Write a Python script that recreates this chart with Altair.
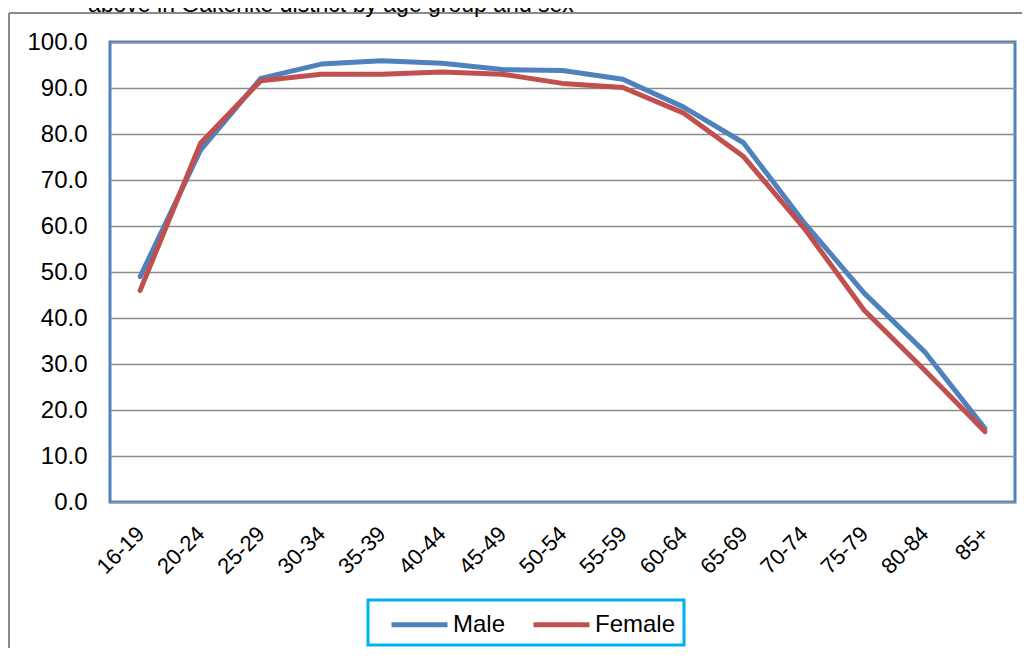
import altair as alt
import pandas as pd

# ---- data ----
age_groups = ["16-19", "20-24", "25-29", "30-34", "35-39", "40-44", "45-49",
              "50-54", "55-59", "60-64", "65-69", "70-74", "75-79", "80-84", "85+"]
male = [49.0, 76.5, 92.1, 95.2, 95.9, 95.4, 94.0, 93.8, 91.9, 85.9, 78.1, 60.8, 45.4, 32.7, 16.0]
female = [46.0, 78.0, 91.6, 93.0, 93.0, 93.5, 93.0, 91.0, 90.1, 84.6, 75.1, 59.6, 41.7, 28.7, 15.3]
series_names = ["Male", "Female"]
series_colors = ["#4F81BD", "#C0504D"]
y_ticks = [0, 10, 20, 30, 40, 50, 60, 70, 80, 90, 100]
title_text = ["above in Gakenke district by age group and sex"]

rows = []
for a, m, f in zip(age_groups, male, female):
    rows.append({"age": a, "series": "Male", "value": m})
    rows.append({"age": a, "series": "Female", "value": f})
df = pd.DataFrame(rows)

FONT = "Liberation Sans"

lines = alt.Chart(df).mark_line(strokeWidth=5, strokeCap="round", strokeJoin="round").encode(
    x=alt.X("age:N", sort=age_groups,
            scale=alt.Scale(type="point", padding=0.5),
            axis=alt.Axis(title=None, labelAngle=-45, labelAlign="right", labelBaseline="middle",
                          labelPadding=28, domain=False, ticks=False, grid=False,
                          labelFont=FONT, labelFontSize=22, labelColor="black")),
    y=alt.Y("value:Q", scale=alt.Scale(domain=[0, 100], nice=False, zero=True),
            axis=alt.Axis(title=None, values=y_ticks, format=".1f", domain=False, ticks=False,
                          grid=True, gridColor="#8c8c8c", gridWidth=1.5, labelPadding=23,
                          labelFont=FONT, labelFontSize=24, labelColor="black")),
    color=alt.Color("series:N",
                    scale=alt.Scale(domain=series_names, range=series_colors),
                    legend=alt.Legend(orient="none", legendX=258, legendY=558,
                                      direction="horizontal", title=None,
                                      symbolType="M-2,0H2", symbolSize=784, symbolStrokeWidth=5,
                                      symbolOffset=27, symbolFillColor="transparent",
                                      labelFont=FONT, labelFontSize=24, labelColor="black",
                                      labelOffset=17, columnPadding=12, padding=8,
                                      strokeColor="#00B0F0", fillColor="white")),
    order=alt.Order("series:N", sort="descending"),
)

one = pd.DataFrame({"k": [0]})
frame_top = alt.Chart(one).mark_rule(color="#8a8a8a", strokeWidth=2).encode(
    x=alt.value(-101), x2=alt.value(930), y=alt.value(-29))
frame_left = alt.Chart(one).mark_rule(color="#8a8a8a", strokeWidth=2).encode(
    x=alt.value(-101), y=alt.value(-29), y2=alt.value(640))

title = alt.Chart(pd.DataFrame({"t": title_text})).mark_text(
    align="left", baseline="alphabetic", font=FONT, fontSize=23, color="black"
).encode(x=alt.value(-22), y=alt.value(-30), text="t:N")

chart = alt.layer(frame_top, frame_left, title, lines).properties(
    width=905, height=460,
    autosize=alt.AutoSizeParams(type="none"),
    padding={"left": 102, "top": 34, "right": 7, "bottom": 146},
    background="white",
).configure_view(stroke="#4F81BD", strokeWidth=3).configure_legend(strokeWidth=3)

chart.save("out.html", embed_options={"renderer": "svg", "actions": False})
